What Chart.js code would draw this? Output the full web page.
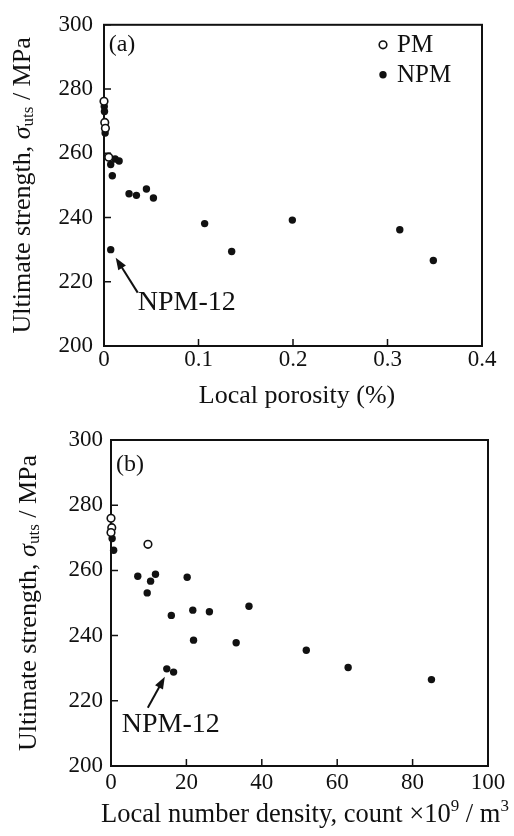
<!DOCTYPE html>
<html>
<head>
<meta charset="utf-8">
<script src="https://cdn.jsdelivr.net/npm/chart.js@4.4.0/dist/chart.umd.min.js"></script>
<style>
  html, body { margin: 0; padding: 0; background: #fff; }
  .panel { position: relative; width: 514px; height: 418px; }
</style>
</head>
<body>
<div class="panel"><canvas id="chartA"></canvas></div>
<div class="panel"><canvas id="chartB"></canvas></div>
<script>
// (a) strength vs local porosity (%)
const pmPorosity = [0.0, 0.0008, 0.0015, 0.005];
const pmStrengthA = [276.2, 269.6, 267.8, 258.8];
const npmPorosity = [0.0003, 0.0005, 0.0012, 0.0118, 0.016, 0.0071, 0.0088, 0.0265, 0.0343,
  0.0449, 0.0523, 0.1065, 0.1993, 0.1351, 0.313, 0.3485, 0.0071];
const npmStrengthA = [274.6, 273.0, 266.3, 258.2, 257.6, 256.5, 253.0, 247.4, 246.9,
  248.9, 246.1, 238.1, 239.2, 229.4, 236.2, 226.6, 230.0];

// (b) strength vs local number density (x10^9 / m^3)
const pmDensity = [0.0, 0.2, 0.0, 9.8];
const pmStrengthB = [276.0, 273.1, 271.6, 268.0];
const npmDensity = [0.3, 0.7, 7.1, 9.6, 10.5, 11.8, 20.2, 16.0, 21.7, 26.1, 36.6, 21.9,
  33.2, 51.8, 14.8, 16.6, 62.9, 85.0];
const npmStrengthB = [269.8, 266.2, 258.2, 253.1, 256.7, 258.8, 257.9, 246.2, 247.8, 247.3,
  249.0, 238.6, 237.8, 235.5, 229.8, 228.8, 230.2, 226.5];

const strengthTicks = [200, 220, 240, 260, 280, 300];
const porosityTicks = [0, 0.1, 0.2, 0.3, 0.4];
const densityTicks = [0, 20, 40, 60, 80, 100];

const FONT = '"Liberation Serif", "Times New Roman", serif';
const INK = '#111';

function points(xs, ys) {
  return xs.map((x, i) => ({ x: x, y: ys[i] }));
}

function arrow(ctx, x0, y0, x1, y1) {
  const a = Math.atan2(y1 - y0, x1 - x0);
  const len = 12, half = 4.5;
  ctx.beginPath();
  ctx.moveTo(x0, y0);
  ctx.lineTo(x1 - len * 0.7 * Math.cos(a), y1 - len * 0.7 * Math.sin(a));
  ctx.stroke();
  ctx.beginPath();
  ctx.moveTo(x1, y1);
  ctx.lineTo(x1 - len * Math.cos(a) + half * Math.sin(a), y1 - len * Math.sin(a) - half * Math.cos(a));
  ctx.lineTo(x1 - len * Math.cos(a) - half * Math.sin(a), y1 - len * Math.sin(a) + half * Math.cos(a));
  ctx.closePath();
  ctx.fill();
}

// draws a run of text pieces (for sub/superscripts) centred on cx, cy
function textRun(ctx, parts, cx, cy, rotate) {
  ctx.save();
  ctx.translate(cx, cy);
  if (rotate) ctx.rotate(-Math.PI / 2);
  ctx.textBaseline = 'middle';
  ctx.textAlign = 'left';
  let total = 0;
  parts.forEach(p => { ctx.font = p.f; p.w = ctx.measureText(p.t).width; total += p.w; });
  let x = -total / 2;
  parts.forEach(p => { ctx.font = p.f; ctx.fillText(p.t, x, p.dy); x += p.w; });
  ctx.restore();
}

const yTitleParts = [
  { t: 'Ultimate strength, ', f: '26px ' + FONT, dy: 0 },
  { t: 'σ', f: 'italic 26px ' + FONT, dy: 0 },
  { t: 'uts', f: '17px ' + FONT, dy: 6 },
  { t: ' / MPa', f: '26px ' + FONT, dy: 0 }
];

const framePlugin = {
  id: 'frame',
  beforeDatasetsDraw(chart) {
    const { ctx, chartArea: a, scales: { x, y } } = chart;
    ctx.save();
    ctx.strokeStyle = INK;
    ctx.lineWidth = 2;
    ctx.strokeRect(a.left, a.top, a.right - a.left, a.bottom - a.top);
    ctx.lineWidth = 1.5;
    ctx.beginPath();
    x.ticks.forEach(t => {
      const px = x.getPixelForValue(t.value);
      ctx.moveTo(px, a.bottom);
      ctx.lineTo(px, a.bottom - 7);
    });
    y.ticks.forEach(t => {
      const py = y.getPixelForValue(t.value);
      ctx.moveTo(a.left, py);
      ctx.lineTo(a.left + 7, py);
    });
    ctx.stroke();
    ctx.restore();
  },
  afterDraw(chart, args, opts) {
    const { ctx, chartArea: a } = chart;
    ctx.save();
    ctx.fillStyle = INK;
    ctx.strokeStyle = INK;
    textRun(ctx, yTitleParts, opts.titleX, (a.top + a.bottom) / 2, true);
    textRun(ctx, opts.xTitle, a.left + opts.xTitleAt[0], a.bottom + opts.xTitleAt[1], false);

    ctx.font = '24px ' + FONT;
    ctx.textAlign = 'center';
    ctx.textBaseline = 'middle';
    ctx.fillText(opts.tag, a.left + opts.tagAt[0], a.top + opts.tagAt[1]);

    if (opts.legend) {
      chart.data.datasets.forEach((ds, i) => {
        const mx = a.right - 99, my = a.top + 20 + i * 30;
        ctx.beginPath();
        ctx.arc(mx, my, ds.pointRadius, 0, Math.PI * 2);
        ctx.fillStyle = ds.backgroundColor;
        ctx.fill();
        if (ds.pointBorderWidth) {
          ctx.lineWidth = ds.pointBorderWidth;
          ctx.strokeStyle = ds.borderColor;
          ctx.stroke();
        }
        ctx.fillStyle = INK;
        ctx.font = '25px ' + FONT;
        ctx.textAlign = 'left';
        ctx.fillText(ds.label, mx + 14, my + 1);
      });
    }

    const n = opts.note;
    const pt = chart.getDatasetMeta(n.dataset).data[n.index];
    ctx.lineWidth = 2;
    arrow(ctx, pt.x + n.tail[0], pt.y + n.tail[1], pt.x + n.tip[0], pt.y + n.tip[1]);
    ctx.font = '28px ' + FONT;
    ctx.textAlign = 'center';
    ctx.textBaseline = 'middle';
    ctx.fillText(n.label, pt.x + n.text[0], pt.y + n.text[1]);
    ctx.restore();
  }
};

function buildChart(id, cfg) {
  return new Chart(document.getElementById(id), {
    type: 'scatter',
    data: {
      datasets: [
        { label: 'PM', data: points(cfg.pmX, cfg.pmY), pointStyle: 'circle', pointRadius: 3.8,
          pointBorderWidth: 1.6, borderColor: INK, backgroundColor: '#fff', clip: false },
        { label: 'NPM', data: points(cfg.npmX, cfg.npmY), pointStyle: 'circle', pointRadius: 3.7,
          pointBorderWidth: 0, borderColor: INK, backgroundColor: INK, clip: false }
      ]
    },
    options: {
      responsive: true,
      maintainAspectRatio: false,
      animation: false,
      events: [],
      layout: { padding: { left: 0, right: cfg.padRight, top: cfg.padTop, bottom: 0 } },
      plugins: {
        legend: { display: false },
        tooltip: { enabled: false },
        frame: cfg.frame
      },
      scales: {
        x: {
          type: 'linear',
          min: cfg.xTicks[0],
          max: cfg.xTicks[cfg.xTicks.length - 1],
          afterBuildTicks: s => { s.ticks = cfg.xTicks.map(v => ({ value: v })); },
          afterFit: s => { s.height = cfg.xAxisHeight; },
          grid: { display: false, drawTicks: false },
          border: { display: false },
          ticks: { color: INK, font: { family: FONT, size: 23 }, padding: cfg.xTickPad,
            maxRotation: 0, autoSkip: false, callback: v => String(v) },
          title: { display: false }
        },
        y: {
          type: 'linear',
          min: 200,
          max: 300,
          afterBuildTicks: s => { s.ticks = strengthTicks.map(v => ({ value: v })); },
          afterFit: s => { s.width = cfg.yAxisWidth; },
          grid: { display: false, drawTicks: false },
          border: { display: false },
          ticks: { color: INK, font: { family: FONT, size: 23 }, padding: cfg.yTickPad,
            autoSkip: false }
        }
      }
    },
    plugins: [framePlugin]
  });
}

buildChart('chartA', {
  pmX: pmPorosity, pmY: pmStrengthA, npmX: npmPorosity, npmY: npmStrengthA,
  xTicks: porosityTicks,
  padTop: 17, padRight: 32, xAxisHeight: 72, yAxisWidth: 104,
  xTickPad: 0, yTickPad: 11,
  frame: { titleX: 23, tag: '(a)', tagAt: [18, 20], legend: true,
    xTitle: [{ t: 'Local porosity (%)', f: '26px ' + FONT, dy: 0 }], xTitleAt: [193, 50],
    note: { dataset: 1, index: 16, label: 'NPM-12', tip: [5, 8], tail: [27, 43], text: [76, 53] } }
});

buildChart('chartB', {
  pmX: pmDensity, pmY: pmStrengthB, npmX: npmDensity, npmY: npmStrengthB,
  xTicks: densityTicks,
  padTop: 22, padRight: 26, xAxisHeight: 70, yAxisWidth: 111,
  xTickPad: 3, yTickPad: 8,
  frame: { titleX: 29, tag: '(b)', tagAt: [19, 25], legend: false,
    xTitle: [
      { t: 'Local number density, count ×10', f: '26.5px ' + FONT, dy: 0 },
      { t: '9', f: '17px ' + FONT, dy: -8 },
      { t: ' / m', f: '26.5px ' + FONT, dy: 0 },
      { t: '3', f: '17px ' + FONT, dy: -8 }
    ], xTitleAt: [194, 49],
    note: { dataset: 1, index: 14, label: 'NPM-12', tip: [-2, 8], tail: [-19, 39], text: [4, 56] } }
});
</script>
</body>
</html>
